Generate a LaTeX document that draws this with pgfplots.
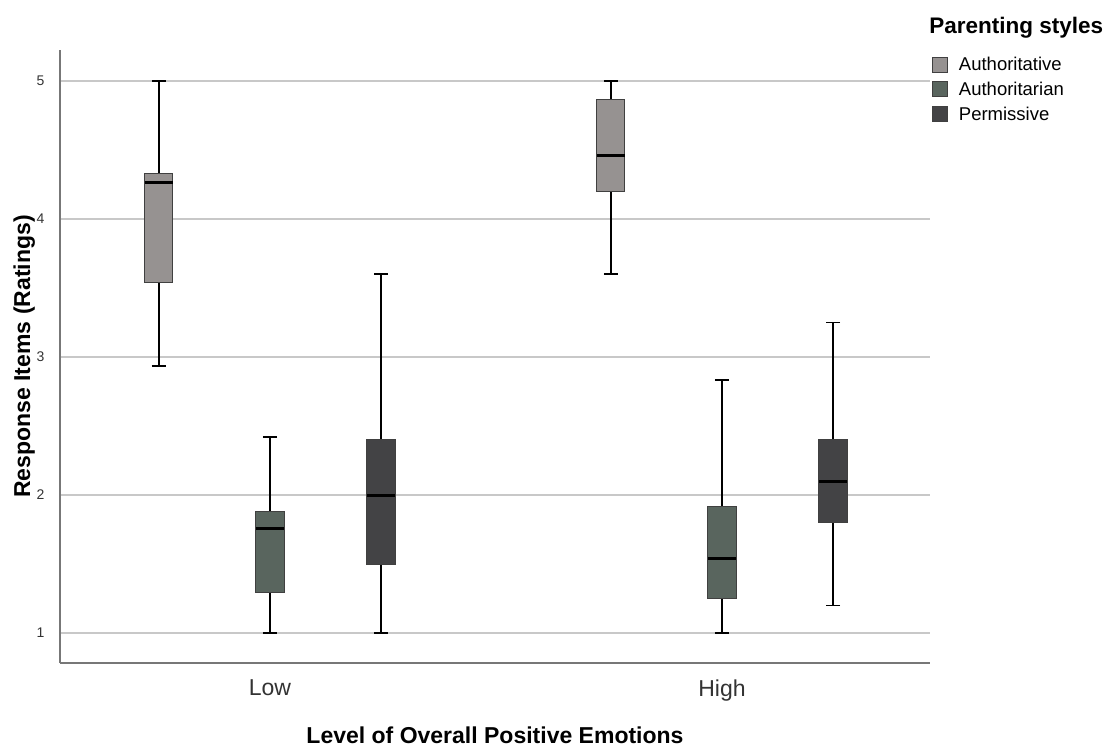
\documentclass[border=0pt]{standalone}
\usepackage{fontspec}
\setmainfont{Liberation Sans}
\usepackage{pgfplots}
\pgfplotsset{compat=1.18}
\usepgfplotslibrary{statistics}
\definecolor{cA}{HTML}{969291}
\definecolor{cB}{HTML}{59655E}
\definecolor{cC}{HTML}{434345}
\definecolor{gridc}{HTML}{C8C8C8}
\definecolor{axc}{HTML}{777777}
\definecolor{txt}{HTML}{333333}
\begin{document}
\begin{tikzpicture}[x=1pt,y=1pt]
\path (0,0) rectangle (1112,744);
\begin{axis}[
  at={(60pt,81pt)}, anchor=south west,
  scale only axis, width=870pt, height=613pt,
  xmin=-0.4646, xmax=1.4602,
  ymin=0.783, ymax=5.225,
  axis x line=bottom, axis y line=left,
  axis line style={-, axc, line width=1.2pt},
  ymajorgrids, grid style={gridc, line width=1.2pt},
  ytick={1,2,3,4,5}, xtick={0,1}, xticklabels={Low,High},
  major tick length=0pt,
  /pgf/number format/assume math mode=true,
  yticklabel style={font=\fontsize{14}{14}\selectfont, text=txt, xshift=-12pt},
  xticklabel style={font=\fontsize{23}{23}\selectfont, text=txt, yshift=-13pt},
  xlabel={Level of Overall Positive Emotions},
  ylabel={Response Items (Ratings)},
  every axis x label/.style={at={(axis description cs:0.5,-0.1175)}, anchor=center, font=\fontsize{23}{23}\selectfont\bfseries},
  every axis y label/.style={at={(axis description cs:-0.041,0.5)}, anchor=center, rotate=90, font=\fontsize{23}{23}\selectfont\bfseries},
  boxplot/draw direction=y,
  boxplot/box extend=0.062,
  boxplot/whisker extend=0.031,
  boxplot/every whisker/.style={line width=1.8pt, black},
  boxplot/every median/.style={line width=3pt, black},
  legend style={draw=none, fill=none, at={(rel axis cs:1.002,0.992)}, anchor=north west,
    font=\fontsize{18.5}{18.5}\selectfont, row sep=6pt, inner sep=0pt,
    nodes={inner sep=2pt}},
  legend cell align=left,
  legend image code/.code={\draw[#1, line width=1pt] (0pt,-7.5pt) rectangle (15pt,7.5pt);},
  clip=false,
]
\addlegendimage{fill=cA, draw=black!75}
\addlegendentry{\hspace{9pt}Authoritative}
\addlegendimage{fill=cB, draw=black!75}
\addlegendentry{\hspace{9pt}Authoritarian}
\addlegendimage{fill=cC, draw=black!75}
\addlegendentry{\hspace{9pt}Permissive}

% Low
\addplot[forget plot, fill=cA, draw=black!75, line width=1pt, boxplot prepared={draw position=-0.2456,
  lower whisker=2.937, lower quartile=3.538, median=4.266, upper quartile=4.33, upper whisker=5}] coordinates {};
\addplot[forget plot, fill=cB, draw=black!75, line width=1pt, boxplot prepared={draw position=0,
  lower whisker=1, lower quartile=1.295, median=1.754, upper quartile=1.879, upper whisker=2.418}] coordinates {};
\addplot[forget plot, fill=cC, draw=black!75, line width=1pt, boxplot prepared={draw position=0.2456,
  lower whisker=1, lower quartile=1.5, median=2.0, upper quartile=2.4, upper whisker=3.6}] coordinates {};
% High
\addplot[forget plot, fill=cA, draw=black!75, line width=1pt, boxplot prepared={draw position=0.7544,
  lower whisker=3.6, lower quartile=4.198, median=4.464, upper quartile=4.867, upper whisker=5}] coordinates {};
\addplot[forget plot, fill=cB, draw=black!75, line width=1pt, boxplot prepared={draw position=1,
  lower whisker=1, lower quartile=1.251, median=1.541, upper quartile=1.915, upper whisker=2.833}] coordinates {};
\addplot[forget plot, fill=cC, draw=black!75, line width=1pt, boxplot prepared={draw position=1.2456,
  lower whisker=1.2, lower quartile=1.8, median=2.1, upper quartile=2.4, upper whisker=3.25}] coordinates {};

\node[anchor=west, font=\fontsize{22.5}{22.5}\selectfont\bfseries, inner sep=0pt] at (rel axis cs:0.999,1.036) {Parenting styles};
\end{axis}
\end{tikzpicture}
\end{document}
